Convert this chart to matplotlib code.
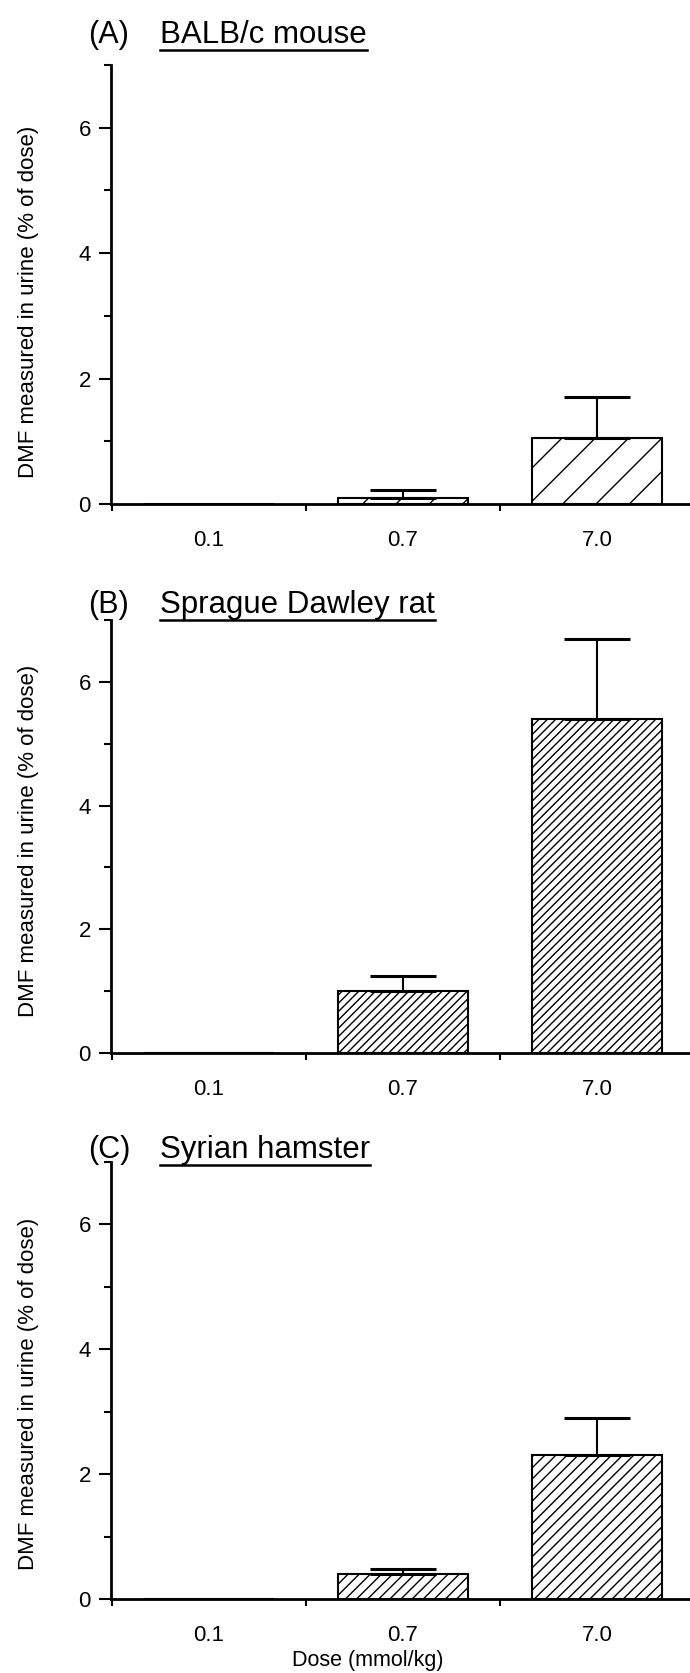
import numpy as np
import matplotlib
matplotlib.use('Agg')
import matplotlib.pyplot as plt
from matplotlib.lines import Line2D

plt.rcParams['font.family'] = ['Liberation Sans', 'DejaVu Sans']
plt.rcParams['hatch.linewidth'] = 1.0
plt.rcParams['hatch.color'] = 'black'

# data (% of dose recovered as DMF in urine)
doses = ['0.1', '0.7', '7.0']
mouse_mean = [0.0, 0.1, 1.05]
mouse_err = [0.0, 0.12, 0.65]
rat_mean = [0.0, 1.0, 5.4]
rat_err = [0.0, 0.25, 1.3]
hamster_mean = [0.0, 0.4, 2.3]
hamster_err = [0.0, 0.08, 0.6]

panel_tags = ['(A)', '(B)', '(C)']
panel_names = ['BALB/c mouse', 'Sprague Dawley rat', 'Syrian hamster']
panel_means = [mouse_mean, rat_mean, hamster_mean]
panel_errs = [mouse_err, rat_err, hamster_err]
panel_hatch = ['/', '////', '///']

W, H = 690, 1673
fig = plt.figure(figsize=(W / 100, H / 100), dpi=100)

# axes boxes in pixels: (top, bottom) of the y axis, title centre line, ylabel centre
boxes = [(65, 504, 35, 0.46), (620, 1053, 605, 0.49), (1162, 1599, 1150, 0.47)]
left_px, right_px = 111, 690

x = np.arange(len(doses))
title_texts = []
for i, (top, bottom, ty, ly) in enumerate(boxes):
    ax = fig.add_axes([left_px / W, 1 - bottom / H, (right_px - left_px) / W, (bottom - top) / H])
    means = np.array(panel_means[i])
    errs = np.array(panel_errs[i])
    ax.bar(x, means, width=0.67, facecolor='white', edgecolor='black',
           linewidth=1.5, hatch=panel_hatch[i], zorder=2)
    keep = means > 0
    ax.errorbar(x[keep], means[keep], yerr=[np.zeros(keep.sum()), errs[keep]],
                fmt='none', ecolor='black', elinewidth=1.5, capsize=24, capthick=2.2, zorder=3)

    ax.set_xlim(-0.505, 2.48)
    ax.set_ylim(0, 7)
    for s in ['top', 'right']:
        ax.spines[s].set_visible(False)
    ax.spines['left'].set_linewidth(2)
    ax.spines['bottom'].set_linewidth(2)

    ax.set_yticks([0, 2, 4, 6])
    ax.set_yticks([1, 3, 5, 7], minor=True)
    ax.set_xticks(x)
    ax.set_xticklabels(doses)
    ax.set_xticks([-0.5, 0.5, 1.5], minor=True)
    ax.tick_params(axis='y', which='major', length=8.5, width=1.5, pad=6, labelsize=16)
    ax.tick_params(axis='y', which='minor', length=5, width=1.5)
    ax.tick_params(axis='x', which='major', length=0, pad=19, labelsize=16)
    ax.tick_params(axis='x', which='minor', length=5, width=1.5)

    ax.set_ylabel('DMF measured in urine (% of dose)', fontsize=16)
    ax.yaxis.set_label_coords(-0.125, ly)

    if i == 2:
        ax.set_xlabel('Dose (mmol/kg)', fontsize=15.5, va='center')
        ax.xaxis.set_label_coords(0.444, -0.14)

    fig.text(88 / W, 1 - ty / H, panel_tags[i], fontsize=22, va='center', ha='left')
    t = fig.text(160 / W, 1 - ty / H, panel_names[i], fontsize=22.5, va='center', ha='left')
    title_texts.append((t, ty))

# underline the species names
fig.canvas.draw()
r = fig.canvas.get_renderer()
for t, ty in title_texts:
    bb = t.get_window_extent(renderer=r)
    yline = 1 - (ty + 15) / H
    fig.add_artist(Line2D([bb.x0 / W, bb.x1 / W], [yline, yline],
                          transform=fig.transFigure, color='black', linewidth=1.8))

plt.savefig('out.png', dpi=100)
